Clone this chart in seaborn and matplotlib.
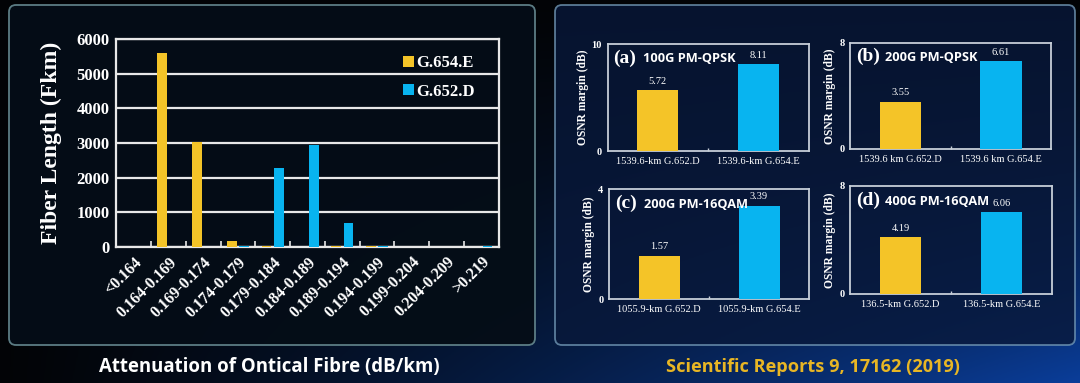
import numpy as np
import pandas as pd
import matplotlib.pyplot as plt
import seaborn as sns
from matplotlib.patches import FancyBboxPatch

# left chart: fibre length per attenuation bin
bins = ['<0.164', '0.164-0.169', '0.169-0.174', '0.174-0.179', '0.179-0.184',
        '0.184-0.189', '0.189-0.194', '0.194-0.199', '0.199-0.204',
        '0.204-0.209', '>0.219']
g654e = [0, 5600, 3040, 170, 20, 0, 30, 30, 0, 0, 0]
g652d = [0, 0, 0, 20, 2290, 2930, 690, 20, 0, 0, 25]

# right charts: OSNR margin
tags = ['(a)', '(b)', '(c)', '(d)']
formats = ['100G PM-QPSK', '200G PM-QPSK', '200G PM-16QAM', '400G PM-16QAM']
fibres = [['1539.6-km G.652.D', '1539.6-km G.654.E'],
          ['1539.6 km G.652.D', '1539.6 km G.654.E'],
          ['1055.9-km G.652.D', '1055.9-km G.654.E'],
          ['136.5-km G.652.D', '136.5-km G.654.E']]
margins = [[5.72, 8.11], [3.55, 6.61], [1.57, 3.39], [4.19, 6.06]]
ymax = [10, 8, 4, 8]

YELLOW = '#f4c428'
BLUE = '#08b4f0'
SERIF = 'Liberation Serif'
SANS = 'Open Sans'

sns.set_theme(style='white')
plt.rcParams['font.family'] = ['DejaVu Sans']

fig = plt.figure(figsize=(10.8, 3.83), dpi=100)

# background gradient black -> blue
bg = fig.add_axes([0, 0, 1, 1], zorder=-10)
xx, yy = np.meshgrid(np.linspace(0, 1, 400), np.linspace(0, 1, 150))
t = np.clip(xx ** 1.2 * yy ** 1.3, 0, 1)
c0 = np.array([0.01, 0.015, 0.025])
c1 = np.array([0.04, 0.24, 0.60])
img = c0 + t[..., None] * (c1 - c0)
bg.imshow(img, aspect='auto', extent=[0, 1, 0, 1], origin='upper')
bg.set_axis_off()

# rounded boxes (inches)
left_box = FancyBboxPatch((0.09, 0.38), 5.26, 3.40,
                          boxstyle='round,pad=0,rounding_size=0.07',
                          transform=fig.dpi_scale_trans, facecolor='#050d17',
                          edgecolor='#5f8088', linewidth=1.3, alpha=0.97, zorder=-5)
right_box = FancyBboxPatch((5.55, 0.38), 5.20, 3.40,
                           boxstyle='round,pad=0,rounding_size=0.07',
                           transform=fig.dpi_scale_trans, facecolor='#08183a',
                           edgecolor='#7096b4', linewidth=1.3, alpha=0.8, zorder=-5)
fig.add_artist(left_box)
fig.add_artist(right_box)

# ---- left bar chart ----
df = pd.DataFrame({'bin': bins * 2,
                   'length': g654e + g652d,
                   'type': ['G.654.E'] * len(bins) + ['G.652.D'] * len(bins)})

ax = fig.add_axes([0.1078, 0.355, 0.3539, 0.543])
ax.set_facecolor('none')
sns.barplot(data=df, x='bin', y='length', hue='type',
            palette={'G.654.E': YELLOW, 'G.652.D': BLUE},
            width=0.72, gap=0.22, saturation=1, linewidth=0, edgecolor='none',
            ax=ax, zorder=3)
ax.set_ylim(0, 6000)
ax.set_xlim(-0.5, len(bins) - 0.5)
ax.yaxis.grid(True, color='#e8e8e8', linewidth=1.6, zorder=1)
for s in ax.spines.values():
    s.set_color('#e8e8e8')
    s.set_linewidth(1.6)
ax.set_xticks(np.arange(-0.5, len(bins), 1.0), minor=True)
ax.tick_params(axis='x', which='minor', direction='in', length=4, width=1.2,
               color='#e8e8e8', bottom=True)
ax.tick_params(axis='both', which='major', length=0, pad=5)
ax.set_xticks(range(len(bins)))
ax.set_xticklabels(bins, rotation=45, ha='right', rotation_mode='anchor',
                   fontfamily=SERIF, fontweight='bold', fontsize=11.5, color='white')
ax.set_yticks(range(0, 6001, 1000))
ax.set_yticklabels([str(v) for v in range(0, 6001, 1000)],
                   fontfamily=SERIF, fontweight='bold', fontsize=12, color='white')
ax.set_xlabel('')
ax.set_ylabel('Fiber Length (Fkm)', fontfamily=SERIF, fontweight='bold',
              fontsize=17, color='white', labelpad=10)
leg = ax.legend(loc='upper left', bbox_to_anchor=(0.71, 0.995), frameon=False,
                handlelength=0.65, handleheight=0.65, handletextpad=0.15,
                labelspacing=0.75, prop={'family': SERIF, 'weight': 'bold', 'size': 12})
for txt in leg.get_texts():
    txt.set_color('white')

# ---- right small charts ----
pos = [[0.5625, 0.6057, 0.1862, 0.2794],
       [0.7870, 0.6110, 0.1865, 0.2780],
       [0.5639, 0.2193, 0.1852, 0.2872],
       [0.7870, 0.2324, 0.1868, 0.2820]]

for i in range(4):
    a = fig.add_axes(pos[i])
    a.set_facecolor('none')
    d = pd.DataFrame({'fibre': fibres[i], 'margin': margins[i]})
    sns.barplot(data=d, x='fibre', y='margin', hue='fibre',
                palette=[YELLOW, BLUE], width=0.41, saturation=1,
                linewidth=0, edgecolor='none', legend=False, ax=a, zorder=3)
    a.set_ylim(0, ymax[i])
    a.set_xlim(-0.5, 1.5)
    a.set_yticks([0, ymax[i]])
    a.set_yticklabels(['0', str(ymax[i])], fontfamily=SERIF, fontweight='bold',
                      fontsize=7.5, color='white')
    a.set_xticks([0, 1])
    a.set_xticklabels(fibres[i], fontfamily=SERIF, fontsize=7.5, color='white')
    a.set_xticks([0.5], minor=True)
    a.tick_params(axis='x', which='minor', direction='in', length=2.5,
                  color='#c8d0d8', bottom=True)
    a.tick_params(axis='both', which='major', length=0, pad=4)
    for s in a.spines.values():
        s.set_color('#c6ced8')
        s.set_linewidth(1.3)
    a.set_xlabel('')
    a.set_ylabel('OSNR margin (dB)', fontfamily=SERIF, fontweight='bold',
                 fontsize=8.3, color='white', labelpad=2)
    for j, v in enumerate(margins[i]):
        a.text(j, v + ymax[i] * 0.04, f'{v:.2f}', ha='center', va='bottom',
               fontfamily=SERIF, fontsize=7.5, color='white')
    a.text(0.03, 0.87, tags[i], transform=a.transAxes, ha='left', va='center',
           fontfamily=SERIF, fontweight='bold', fontsize=14, color='white')
    a.text(0.175, 0.86, formats[i], transform=a.transAxes, ha='left', va='center',
           fontfamily=SANS, fontweight='bold', fontsize=9.2, color='white')

# captions
fig.text(269 / 1080, 1 - 367 / 383, 'Attenuation of Ontical Fibre (dB/km)',
         ha='center', va='center', fontfamily=SANS, fontweight='bold',
         fontsize=13.4, color='white')
fig.text(813 / 1080, 1 - 367 / 383, 'Scientific Reports 9, 17162 (2019)',
         ha='center', va='center', fontfamily=SANS, fontweight='bold',
         fontsize=13.1, color='#e8b624')

fig.savefig('out.png', dpi=100)
